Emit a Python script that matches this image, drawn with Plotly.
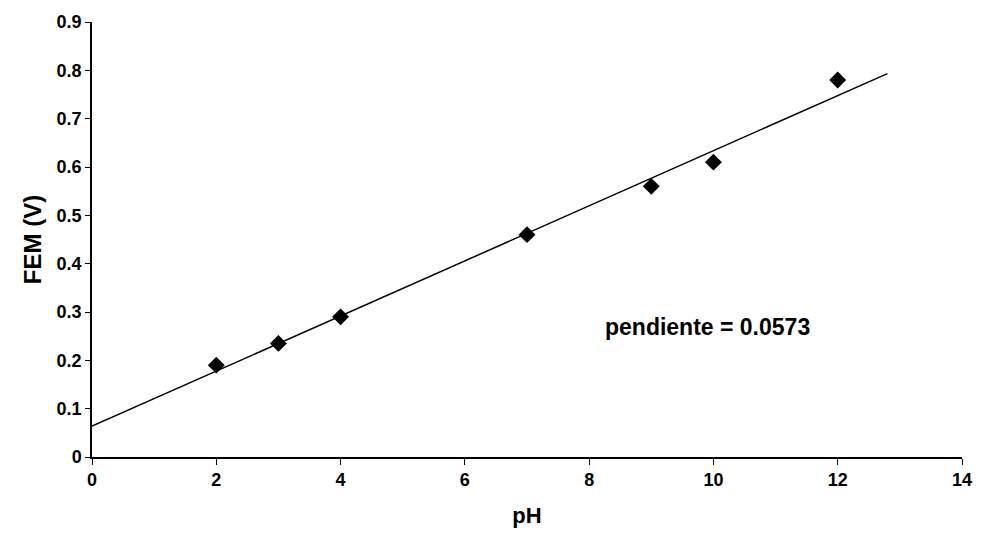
import numpy as np
import plotly.graph_objects as go

ph = [2, 3, 4, 7, 9, 10, 12]
fem = [0.19, 0.235, 0.29, 0.46, 0.56, 0.61, 0.78]
x_ticks = [0, 2, 4, 6, 8, 10, 12, 14]
y_ticks = [0, 0.1, 0.2, 0.3, 0.4, 0.5, 0.6, 0.7, 0.8, 0.9]
slope_label = "pendiente = 0.0573"

slope, intercept = np.polyfit(ph, fem, 1)
line_x = np.array([0, 12.8])
line_y = slope * line_x + intercept

fig = go.Figure()
fig.add_trace(go.Scatter(x=line_x, y=line_y, mode="lines",
                         line=dict(color="black", width=1.5), showlegend=False))
fig.add_trace(go.Scatter(x=ph, y=fem, mode="markers",
                         marker=dict(symbol="diamond", size=13, color="black"),
                         showlegend=False))

font = "Liberation Sans, Arial, sans-serif"
fig.add_annotation(x=9.9, y=0.27, text="<b>" + slope_label + "</b>", showarrow=False,
                   font=dict(family=font, size=23, color="black"))

fig.update_layout(
    width=986, height=536,
    margin=dict(l=92, r=24, t=18, b=76),
    paper_bgcolor="white", plot_bgcolor="white",
    font=dict(family=font, color="black"),
)
fig.update_xaxes(
    range=[0, 14], tickvals=x_ticks, ticktext=[f"<b>{v}</b>" for v in x_ticks],
    tickfont=dict(size=18), showgrid=False, zeroline=False,
    showline=True, linecolor="black", linewidth=1.5,
    ticks="outside", ticklen=6, tickcolor="black",
    title=dict(text="<b>pH</b>", font=dict(size=22), standoff=18),
)
fig.update_yaxes(
    range=[0, 0.9], tickvals=y_ticks, ticktext=[f"<b>{v:g}</b>" for v in y_ticks],
    tickfont=dict(size=18), showgrid=False, zeroline=False,
    showline=True, linecolor="black", linewidth=1.5,
    ticks="outside", ticklen=5, tickcolor="black",
    title=dict(text="<b>FEM (V)</b>", font=dict(size=24), standoff=8),
)

fig.write_html("out.html")
